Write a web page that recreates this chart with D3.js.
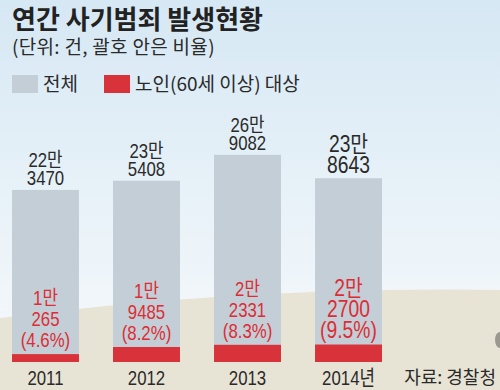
<!DOCTYPE html>
<html>
<head>
<meta charset="utf-8">
<script src="https://cdn.jsdelivr.net/npm/d3@7"></script>
<style>
  body { margin: 0; padding: 0; }
  svg { display: block; }
  text { font-family: "Noto Sans CJK KR", "Noto Sans", sans-serif; }
  .num { font-family: "Liberation Sans", "Noto Sans CJK KR", sans-serif; }
</style>
</head>
<body>
<div id="chart"></div>
<script>
//------------------------- data -------------------------
var years = ["2011", "2012", "2013", "2014"];
var yearLabels = ["2011", "2012", "2013", "2014년"];
var totalCases = [223470, 235408, 269082, 238643];
var elderCases = [10265, 19485, 22331, 22700];
var elderRatio = ["4.6%", "8.2%", "8.3%", "9.5%"];
var legendItems = ["전체", "노인(60세 이상) 대상"];

var width = 500,
  height = 390;
var colorTotal = "#c3ced6",
  colorElder = "#d8333a",
  textDark = "#2a2a2a",
  textRed = "#dc2d35";

var svg = d3.select("#chart").append("svg")
  .attr("width", width)
  .attr("height", height);

//------------------------- background -------------------------
var defs = svg.append("defs");
var sky = defs.append("linearGradient")
  .attr("id", "sky")
  .attr("x1", 0).attr("y1", 0).attr("x2", 0).attr("y2", 1);
sky.append("stop").attr("offset", "0%").attr("stop-color", "#d6e8f4");
sky.append("stop").attr("offset", "75%").attr("stop-color", "#f0f6fa");
sky.append("stop").attr("offset", "100%").attr("stop-color", "#f3f8fb");

svg.append("rect")
  .attr("width", width)
  .attr("height", height)
  .attr("fill", "url(#sky)");

// ground hill
svg.append("path")
  .attr("d", "M0,318 Q250,286 500,290 L500,390 L0,390 Z")
  .attr("fill", "#e8e4d5");
svg.append("ellipse")
  .attr("cx", 500).attr("cy", 340).attr("rx", 5).attr("ry", 8)
  .attr("fill", "#9b9890");

//------------------------- scales -------------------------
var x = d3.scaleBand()
  .domain(years)
  .range([12, 382])
  .paddingInner(0.337)
  .paddingOuter(0);

var y = d3.scaleLinear()
  .domain([0, 300000])
  .range([362, 131]);

// "22만" / "3470" 형태로 나누기
function manParts(v) {
  return [Math.floor(v / 10000) + "만", String(v % 10000)];
}

// multi-line, horizontally condensed label; by = baseline of last line
function stackText(g, lines, cx, by, gap, size, color) {
  var t = g.append("text")
    .attr("class", "num")
    .attr("transform", "translate(" + cx + "," + (by - gap * (lines.length - 1)) + ") scale(0.84,1)")
    .attr("text-anchor", "middle")
    .attr("font-size", size)
    .attr("fill", color);
  lines.forEach(function(s, k) {
    t.append("tspan")
      .attr("x", 0)
      .attr("dy", k === 0 ? 0 : gap)
      .text(s);
  });
}

//------------------------- bars -------------------------
var bars = svg.append("g");
bars.selectAll(".total")
  .data(totalCases)
  .enter().append("rect")
  .attr("class", "total")
  .attr("x", function(d, i) { return x(years[i]); })
  .attr("y", function(d) { return y(d); })
  .attr("width", x.bandwidth())
  .attr("height", function(d) { return y(0) - y(d); })
  .attr("fill", colorTotal);

bars.selectAll(".elder")
  .data(elderCases)
  .enter().append("rect")
  .attr("class", "elder")
  .attr("x", function(d, i) { return x(years[i]); })
  .attr("y", function(d) { return y(d); })
  .attr("width", x.bandwidth())
  .attr("height", function(d) { return y(0) - y(d); })
  .attr("fill", colorElder);

//------------------------- value labels -------------------------
// 최근 연도(2014)는 조금 크게
var labels = svg.append("g");
totalCases.forEach(function(v, i) {
  var cx = x(years[i]) + x.bandwidth() / 2;
  var last = i === years.length - 1;
  stackText(labels, manParts(v), cx, y(v) - 5, last ? 21 : 18, last ? 23 : 20, textDark);
});

elderCases.forEach(function(v, i) {
  var cx = x(years[i]) + x.bandwidth() / 2;
  var last = i === years.length - 1;
  var lines = manParts(v).concat(["(" + elderRatio[i] + ")"]);
  stackText(labels, lines, cx, y(v) - 7, 21, last ? 23 : 20, textRed);
});

//------------------------- x axis -------------------------
var xAxis = d3.axisBottom(x)
  .tickSize(0)
  .tickPadding(0)
  .tickFormat(function(d, i) { return yearLabels[i]; });

var axisG = svg.append("g")
  .attr("transform", "translate(0,385)")
  .call(xAxis);
axisG.select(".domain").remove();
axisG.selectAll("text")
  .attr("class", "num")
  .attr("font-family", null)
  .attr("font-size", 21)
  .attr("fill", textDark)
  .attr("dy", 0)
  .attr("y", 0)
  .attr("transform", "scale(0.8,1)");

//------------------------- title / legend -------------------------
svg.append("text")
  .attr("x", 12)
  .attr("y", 29)
  .attr("font-size", 26)
  .attr("font-weight", 700)
  .attr("fill", "#222")
  .text("연간 사기범죄 발생현황");

svg.append("text")
  .attr("x", 12)
  .attr("y", 54)
  .attr("font-size", 19)
  .attr("letter-spacing", 0.3)
  .attr("fill", "#2a2a2a")
  .text("(단위: 건, 괄호 안은 비율)");

var legend = svg.append("g").attr("transform", "translate(12,75)");
var legendX = [0, 92];
var legendColors = [colorTotal, colorElder];
legendItems.forEach(function(name, i) {
  legend.append("rect")
    .attr("x", legendX[i])
    .attr("y", 0)
    .attr("width", 26)
    .attr("height", 18)
    .attr("fill", legendColors[i]);
  legend.append("text")
    .attr("x", legendX[i] + 31)
    .attr("y", 16)
    .attr("font-size", 19)
    .attr("fill", "#2a2a2a")
    .text(name);
});

svg.append("text")
  .attr("x", 496)
  .attr("y", 384)
  .attr("text-anchor", "end")
  .attr("font-size", 18)
  .attr("fill", "#2a2a2a")
  .text("자료: 경찰청");
</script>
</body>
</html>
